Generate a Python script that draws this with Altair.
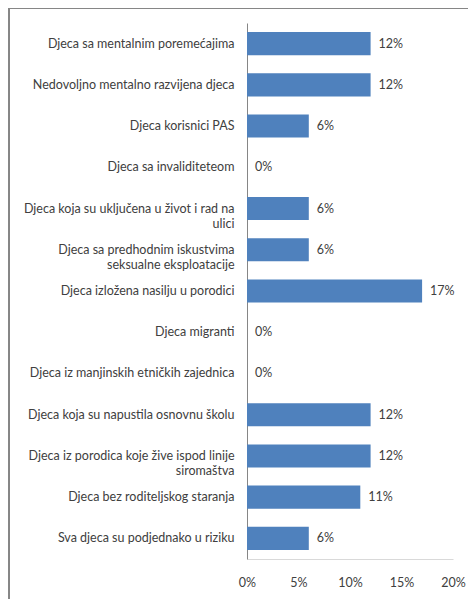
import altair as alt
import pandas as pd

categories = [
    "Djeca sa mentalnim poremećajima",
    "Nedovoljno mentalno razvijena djeca",
    "Djeca korisnici PAS",
    "Djeca sa invaliditeteom",
    "Djeca koja su uključena u život i rad na|ulici",
    "Djeca sa predhodnim iskustvima|seksualne eksploatacije",
    "Djeca izložena nasilju u porodici",
    "Djeca migranti",
    "Djeca iz manjinskih etničkih zajednica",
    "Djeca koja su napustila osnovnu školu",
    "Djeca iz porodica koje žive ispod linije|siromaštva",
    "Djeca bez roditeljskog staranja",
    "Sva djeca su podjednako u riziku",
]
values = [0.12, 0.12, 0.06, 0.0, 0.06, 0.06, 0.17, 0.0, 0.0, 0.12, 0.12, 0.11, 0.06]
x_ticks = [0, 0.05, 0.10, 0.15, 0.20]

df = pd.DataFrame({"cat": categories, "val": values})

FONT = "Lato"
TEXT = "#404040"

y_enc = alt.Y(
    "cat:N",
    sort=categories,
    title=None,
    scale=alt.Scale(paddingInner=0.44, paddingOuter=0.22),
    axis=alt.Axis(
        ticks=False,
        domainColor="#868686",
        labelFont=FONT,
        labelFontSize=12.5,
        labelColor=TEXT,
        labelPadding=13,
        labelLimit=300,
        labelExpr="split(datum.label, '|')",
        labelLineHeight=15,
    ),
)
x_enc = alt.X(
    "val:Q",
    title=None,
    scale=alt.Scale(domain=[0, 0.2], nice=False),
    axis=alt.Axis(
        values=x_ticks,
        format=".0%",
        ticks=False,
        grid=False,
        domainColor="#d9d9d9",
        labelFont=FONT,
        labelFontSize=12.5,
        labelColor=TEXT,
        labelPadding=17,
        labelFlush=False,
    ),
)

bars = alt.Chart(df).mark_bar(color="#4F81BD").encode(x=x_enc, y=y_enc)
labels = alt.Chart(df).mark_text(
    align="left", baseline="middle", dx=8, font=FONT, fontSize=12.5, color=TEXT
).encode(x="val:Q", y=alt.Y("cat:N", sort=categories), text=alt.Text("val:Q", format=".0%"))

frame_top = alt.Chart(df).mark_rule(color="#868686", strokeWidth=1, clip=False).encode(
    x=alt.value(-238), x2=alt.value(240), y=alt.value(-15)
)
frame_left = alt.Chart(df).mark_rule(color="#868686", strokeWidth=1, clip=False).encode(
    x=alt.value(-238), y=alt.value(-15), y2=alt.value(600)
)

chart = alt.layer(bars, labels, frame_top, frame_left).properties(
    width=206,
    height=536,
    autosize=alt.AutoSizeParams(type="none"),
    padding={"left": 239, "top": 15, "right": 15, "bottom": 40},
).configure_view(stroke=None)

chart.save("out.html", embed_options={"renderer": "svg", "actions": False})
